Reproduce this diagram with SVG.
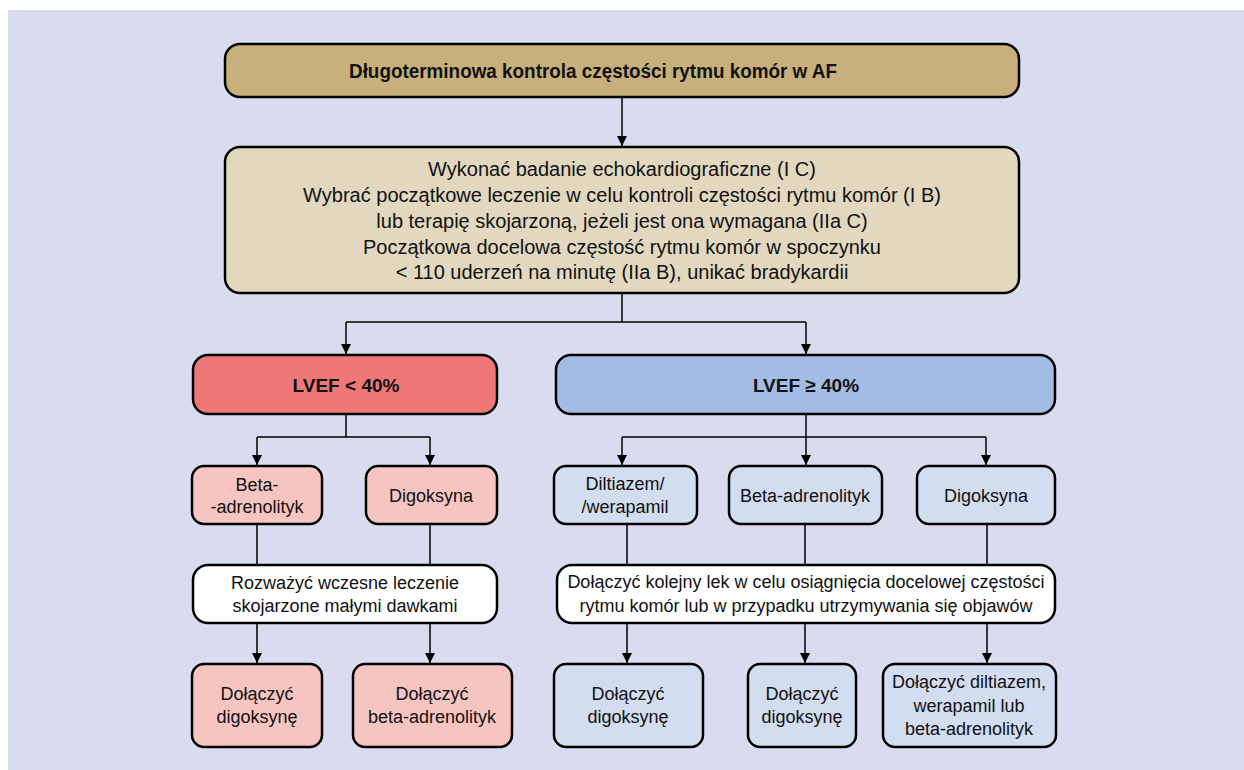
<svg xmlns="http://www.w3.org/2000/svg" width="1244" height="770" viewBox="0 0 1244 770">
<defs>
<marker id="ah" viewBox="0 0 10 10" refX="10" refY="5" markerWidth="10" markerHeight="10" markerUnits="userSpaceOnUse" orient="auto">
<path d="M0,0 L10,5 L0,10 Z" fill="#000"/>
</marker>
<style>
.box{stroke:#000;stroke-width:2.5}
.t{font-family:"Liberation Sans",Arial,sans-serif;font-size:18px;fill:#111;text-anchor:middle}
.m{font-size:20px}
.b{font-weight:bold;font-size:19px}
.c{fill:none;stroke:#000;stroke-width:1.5}
.a{marker-end:url(#ah)}
</style>
</defs>
<rect x="0" y="0" width="1244" height="770" fill="#fff"/>
<rect x="8" y="10" width="1236" height="760" fill="#d9dcee"/>

<g id="connectors">
<path class="c a" d="M622,97 V146"/>
<path class="c" d="M622,293 V322 M346,322 H806"/>
<path class="c a" d="M346,322 V354"/>
<path class="c a" d="M806,322 V354"/>
<path class="c" d="M346,414 V437 M257,437 H430"/>
<path class="c a" d="M257,437 V465"/>
<path class="c a" d="M430,437 V465"/>
<path class="c" d="M257,524 V565 M430,524 V565"/>
<path class="c a" d="M257,623 V663"/>
<path class="c a" d="M430,623 V663"/>
<path class="c a" d="M806,414 V465"/>
<path class="c" d="M622,437 H986"/>
<path class="c a" d="M622,437 V465"/>
<path class="c a" d="M986,437 V465"/>
<path class="c" d="M627,524 V565 M805,524 V565 M987,524 V565"/>
<path class="c a" d="M627,623 V663"/>
<path class="c a" d="M805,623 V663"/>
<path class="c a" d="M987,623 V663"/>
</g>

<g id="title">
<rect class="box" x="225" y="44" width="794" height="53" rx="15" fill="#c8b07c"/>
<text class="t b" x="593" y="78" style="font-size:20px" textLength="488" lengthAdjust="spacingAndGlyphs">Długoterminowa kontrola częstości rytmu komór w AF</text>
</g>
<g id="initial">
<rect class="box" x="225" y="147" width="794" height="146" rx="15" fill="#e2d8c0"/>
<text class="t m" x="622" y="176">Wykonać badanie echokardiograficzne (I C)</text>
<text class="t m" x="622" y="202">Wybrać początkowe leczenie w celu kontroli częstości rytmu komór (I B)</text>
<text class="t m" x="622" y="228">lub terapię skojarzoną, jeżeli jest ona wymagana (IIa C)</text>
<text class="t m" x="622" y="254">Początkowa docelowa częstość rytmu komór w spoczynku</text>
<text class="t m" x="622" y="279">&lt; 110 uderzeń na minutę (IIa B), unikać bradykardii</text>
</g>

<g id="lvef-low">
<rect class="box" x="193" y="355" width="304" height="59" rx="15" fill="#ef7777"/>
<text class="t b" x="346" y="392">LVEF &lt; 40%</text>
</g>
<g id="lvef-high">
<rect class="box" x="556" y="355" width="499" height="59" rx="15" fill="#a3bce4"/>
<text class="t b" x="806" y="392">LVEF ≥ 40%</text>
</g>

<g id="low-beta">
<rect class="box" x="192" y="466" width="130" height="58" rx="12" fill="#f6c5c2"/>
<text class="t" x="257" y="491">Beta-</text>
<text class="t" x="257" y="513">-adrenolityk</text>
</g>
<g id="low-dig">
<rect class="box" x="366" y="466" width="131" height="58" rx="12" fill="#f6c5c2"/>
<text class="t" x="431" y="502">Digoksyna</text>
</g>
<g id="low-combo">
<rect class="box" x="193" y="565" width="304" height="58" rx="15" fill="#fff"/>
<text class="t" x="345" y="589">Rozważyć wczesne leczenie</text>
<text class="t" x="345" y="612">skojarzone małymi dawkami</text>
</g>
<g id="low-add-dig">
<rect class="box" x="192" y="664" width="130" height="83" rx="12" fill="#f6c5c2"/>
<text class="t" x="257" y="700">Dołączyć</text>
<text class="t" x="257" y="723">digoksynę</text>
</g>
<g id="low-add-beta">
<rect class="box" x="353" y="664" width="159" height="83" rx="12" fill="#f6c5c2"/>
<text class="t" x="432" y="700">Dołączyć</text>
<text class="t" x="432" y="723">beta-adrenolityk</text>
</g>

<g id="high-dilt">
<rect class="box" x="554" y="466" width="143" height="58" rx="12" fill="#d3ddf0"/>
<text class="t" x="625" y="490">Diltiazem/</text>
<text class="t" x="625" y="513">/werapamil</text>
</g>
<g id="high-beta">
<rect class="box" x="729" y="466" width="153" height="58" rx="12" fill="#d3ddf0"/>
<text class="t" x="805" y="502">Beta-adrenolityk</text>
</g>
<g id="high-dig">
<rect class="box" x="917" y="466" width="138" height="58" rx="12" fill="#d3ddf0"/>
<text class="t" x="986" y="502">Digoksyna</text>
</g>
<g id="high-combo">
<rect class="box" x="557" y="565" width="498" height="58" rx="15" fill="#fff"/>
<text class="t" x="806" y="588">Dołączyć kolejny lek w celu osiągnięcia docelowej częstości</text>
<text class="t" x="806" y="612">rytmu komór lub w przypadku utrzymywania się objawów</text>
</g>
<g id="high-add-dig1">
<rect class="box" x="554" y="664" width="149" height="83" rx="12" fill="#d3ddf0"/>
<text class="t" x="628" y="700">Dołączyć</text>
<text class="t" x="628" y="723">digoksynę</text>
</g>
<g id="high-add-dig2">
<rect class="box" x="748" y="664" width="108" height="83" rx="12" fill="#d3ddf0"/>
<text class="t" x="802" y="700">Dołączyć</text>
<text class="t" x="802" y="723">digoksynę</text>
</g>
<g id="high-add-dilt">
<rect class="box" x="883" y="664" width="173" height="83" rx="12" fill="#d3ddf0"/>
<text class="t" x="969" y="688">Dołączyć diltiazem,</text>
<text class="t" x="969" y="712">werapamil lub</text>
<text class="t" x="969" y="735">beta-adrenolityk</text>
</g>
</svg>
